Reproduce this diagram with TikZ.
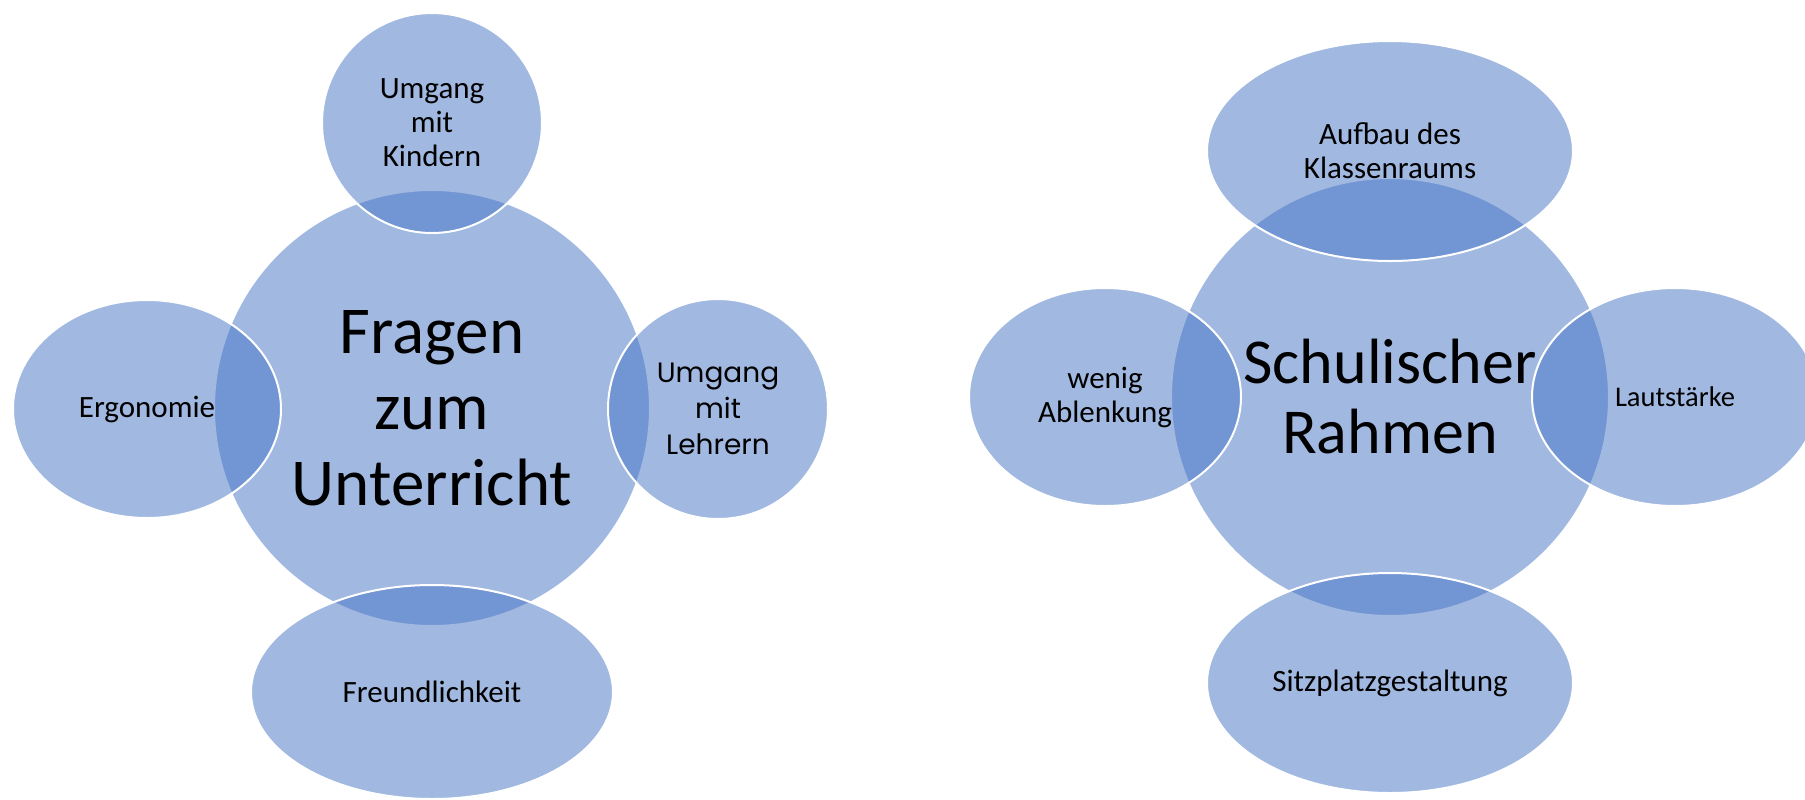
\documentclass[tikz,border=0pt]{standalone}
\usepackage{fontspec}
\setmainfont{Carlito}
\newfontfamily\gothicfont{Poppins}
\usetikzlibrary{positioning,shapes.geometric}
\definecolor{kreisBlau}{HTML}{4472C4}
\tikzset{
  hub/.style    = {circle, draw=white, line width=1pt, fill=kreisBlau,
                   fill opacity=0.5, text opacity=1, inner sep=0pt, align=center},
  petal/.style  = {ellipse, draw=white, line width=1pt, fill=kreisBlau,
                   fill opacity=0.5, text opacity=1, inner sep=0pt, align=center,
                   font=\fontsize{15.5}{17}\selectfont},
  petalc/.style = {petal, circle},
}
\begin{document}
\begin{tikzpicture}[x=0.5pt, y=-0.5pt]
  \useasboundingbox (0,0) rectangle (1805,799);

  % Fragen zum Unterricht
  \node[hub, minimum size=218pt, font=\fontsize{33.5}{38}\selectfont] (unterricht) at (432,408)
    {Fragen\\zum\\Unterricht};
  \node[petalc, minimum size=110pt] (kinder) at (432,123) {Umgang\\mit\\Kindern};
  \node[petal, minimum width=134pt, minimum height=109pt] (ergo) at (147,409) {Ergonomie};
  \node[petalc, minimum size=110pt, font=\gothicfont\fontsize{14}{18}\selectfont] (lehrer) at (718,409)
    {Umgang\\mit\\Lehrern};
  \node[petal, minimum width=181pt, minimum height=107pt] (freund) at (432,692) {Freundlichkeit};

  % Schulischer Rahmen
  \node[hub, minimum size=219pt, font=\fontsize{32}{35}\selectfont] (rahmen) at (1390,397)
    {Schulischer\\Rahmen};
  \node[petal, minimum width=183pt, minimum height=110pt] (aufbau) at (1390,151)
    {Aufbau des\\Klassenraums};
  \node[petal, minimum width=136pt, minimum height=109pt] (ablenkung) at (1105,397)
    {wenig\\Ablenkung};
  \node[petal, minimum width=143pt, minimum height=109pt, font=\fontsize{14.25}{17}\selectfont] (laut) at (1675,397)
    {Lautstärke};
  \node[petal, minimum width=183pt, minimum height=110pt] (sitz) at (1390,683)
    {Sitzplatzgestaltung};
\end{tikzpicture}
\end{document}
